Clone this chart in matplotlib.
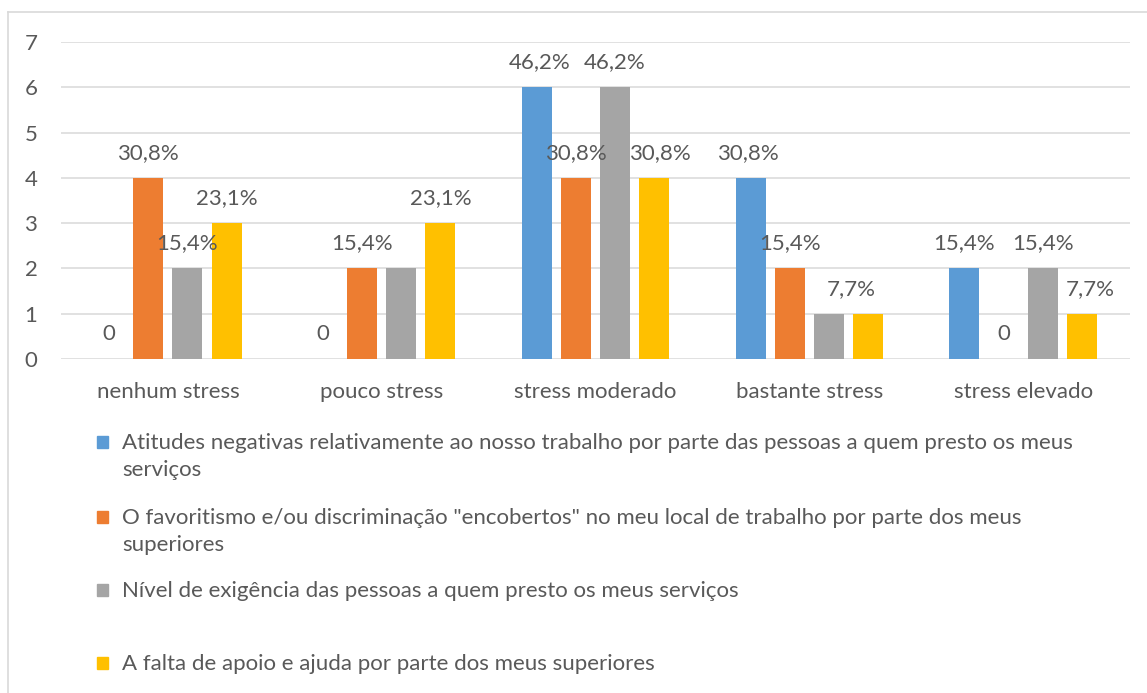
import numpy as np
import matplotlib
matplotlib.use("Agg")
import matplotlib.pyplot as plt
from matplotlib.lines import Line2D
from matplotlib.patches import Rectangle

plt.rcParams["font.family"] = ["Lato", "DejaVu Sans"]

categories = ["nenhum stress", "pouco stress", "stress moderado", "bastante stress", "stress elevado"]
series_names = [
    "Atitudes negativas relativamente ao nosso trabalho por parte das pessoas a quem presto os meus\nserviços",
    "O favoritismo e/ou discriminação \"encobertos\" no meu local de trabalho por parte dos meus\nsuperiores",
    "Nível de exigência das pessoas a quem presto os meus serviços",
    "A falta de apoio e ajuda por parte dos meus superiores",
]
atitudes = [0, 0, 6, 4, 2]
favoritismo = [4, 2, 4, 2, 0]
exigencia = [2, 2, 6, 1, 2]
falta_apoio = [3, 3, 4, 1, 1]

# data labels as printed in the chart ("" = label hidden by Excel)
atitudes_lbl = ["0", "0", "46,2%", "30,8%", "15,4%"]
favoritismo_lbl = ["30,8%", "15,4%", "30,8%", "15,4%", "0"]
exigencia_lbl = ["15,4%", "", "46,2%", "", "15,4%"]
falta_apoio_lbl = ["23,1%", "23,1%", "30,8%", "7,7%", "7,7%"]

values = [atitudes, favoritismo, exigencia, falta_apoio]
labels = [atitudes_lbl, favoritismo_lbl, exigencia_lbl, falta_apoio_lbl]
colors = ["#5B9BD5", "#ED7D31", "#A5A5A5", "#FFC000"]
TXT = "#595959"
FS = 16

# small horizontal nudges (px) of some labels, as placed in the original
nudge = {(0, 2): 3, (0, 3): -3, (3, 2): 6, (3, 3): -17, (3, 4): 8}

W, H = 1147, 693
fig = plt.figure(figsize=(W / 100, H / 100), dpi=100)
ax = fig.add_axes([61 / W, (H - 359) / H, (1130 - 61) / W, 317 / H])

x = np.arange(len(categories))
bw = 0.14
step = 0.183
for i, (vals, lbls, c) in enumerate(zip(values, labels, colors)):
    pos = x + (i - 1.5) * step
    ax.bar(pos, vals, width=bw, color=c, zorder=3)
    for j, (px, v, t) in enumerate(zip(pos, vals, lbls)):
        if not t:
            continue
        dx = nudge.get((i, j), 0) * 0.72
        ax.annotate(t, (px, v), xytext=(dx, 18), textcoords="offset points",
                    ha="center", va="center", fontsize=FS, color=TXT, zorder=4)

ax.set_xlim(-0.5, len(categories) - 0.5)
ax.set_ylim(0, 7)
ax.set_yticks(range(0, 8))
ax.set_xticks(x)
ax.set_xticklabels(categories)
ax.grid(axis="y", color="#D9D9D9", linewidth=1.1, zorder=0)
ax.tick_params(axis="both", length=0, labelsize=FS, colors=TXT)
ax.tick_params(axis="y", pad=17)
ax.tick_params(axis="x", pad=16.5)
for s in ax.spines.values():
    s.set_visible(False)

# legend, drawn by hand so the swatch sits on the first text line
slot_y = [443, 518, 591, 664]
for name, c, yy in zip(series_names, colors, slot_y):
    fig.patches.append(Rectangle((97 / W, (H - yy - 5) / H), 11 / W, 12 / H,
                                 transform=fig.transFigure, color=c))
    fig.text(122 / W, (H - yy) / H, name.split("\n")[0], ha="left", va="center",
             fontsize=FS, color=TXT)
    if "\n" in name:
        fig.text(122 / W, (H - yy - 27) / H, name.split("\n")[1], ha="left",
                 va="center", fontsize=FS, color=TXT)

# chart frame
fig.add_artist(Line2D([8 / W, 1], [1 - 12 / H, 1 - 12 / H], color="#D9D9D9", lw=1.2))
fig.add_artist(Line2D([8 / W, 8 / W], [0, 1 - 12 / H], color="#D9D9D9", lw=1.2))

fig.savefig("out.png", dpi=100)
